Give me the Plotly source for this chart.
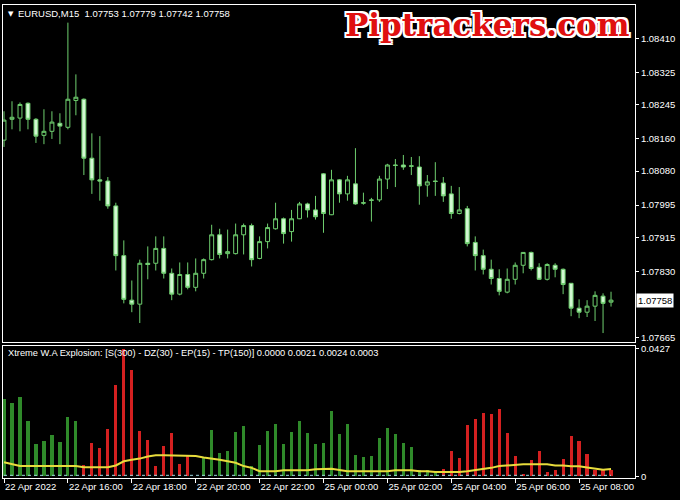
import plotly.graph_objects as go

# ---- data (EURUSD M15) ----
time_labels = ["22 Apr 2022", "22 Apr 16:00", "22 Apr 18:00", "22 Apr 20:00", "22 Apr 22:00",
               "25 Apr 00:00", "25 Apr 02:00", "25 Apr 04:00", "25 Apr 06:00", "25 Apr 08:00"]

opens = [1.08157, 1.08209, 1.08212, 1.08249, 1.08209, 1.08169, 1.08179, 1.08199, 1.08189, 1.08256,
         1.08259, 1.08112, 1.08058, 1.08055, 1.07993, 1.07869, 1.07758, 1.07748, 1.07850, 1.07850,
         1.07887, 1.07825, 1.07773, 1.07822, 1.07790, 1.07825, 1.07859, 1.07921, 1.07874, 1.07874,
         1.07921, 1.07944, 1.07862, 1.07904, 1.07936, 1.07961, 1.07929, 1.07961, 1.07998, 1.07983,
         1.08073, 1.07971, 1.08058, 1.08023, 1.08048, 1.08001, 1.08008, 1.08008, 1.08060, 1.08095,
         1.08095, 1.08093, 1.08090, 1.08045, 1.08055, 1.08050, 1.08023, 1.07974, 1.07986, 1.07902,
         1.07869, 1.07835, 1.07812, 1.07778, 1.07810, 1.07845, 1.07877, 1.07840, 1.07810, 1.07845,
         1.07835, 1.07800, 1.07738, 1.07728, 1.07743, 1.07768, 1.07753]
highs = [1.08229, 1.08254, 1.08251, 1.08251, 1.08212, 1.08234, 1.08229, 1.08224, 1.08450, 1.08321,
         1.08261, 1.08174, 1.08167, 1.08065, 1.08001, 1.07907, 1.07807, 1.07859, 1.07892, 1.07917,
         1.07917, 1.07837, 1.07852, 1.07852, 1.07862, 1.07862, 1.07946, 1.07936, 1.07934, 1.07949,
         1.07949, 1.07949, 1.07917, 1.07949, 1.08001, 1.07964, 1.07983, 1.08003, 1.08001, 1.08018,
         1.08075, 1.08083, 1.08060, 1.08068, 1.08137, 1.08026, 1.08013, 1.08068, 1.08098, 1.08110,
         1.08120, 1.08115, 1.08117, 1.08070, 1.08102, 1.08065, 1.08043, 1.08040, 1.07993, 1.07917,
         1.07884, 1.07859, 1.07835, 1.07837, 1.07852, 1.07878, 1.07879, 1.07850, 1.07850, 1.07850,
         1.07837, 1.07800, 1.07760, 1.07758, 1.07780, 1.07775, 1.07779]
lows = [1.08140, 1.08184, 1.08179, 1.08184, 1.08150, 1.08147, 1.08160, 1.08147, 1.08184, 1.08219,
        1.08070, 1.08023, 1.08006, 1.07986, 1.07832, 1.07750, 1.07728, 1.07701, 1.07810, 1.07832,
        1.07812, 1.07758, 1.07770, 1.07785, 1.07780, 1.07812, 1.07857, 1.07862, 1.07862, 1.07872,
        1.07872, 1.07842, 1.07860, 1.07887, 1.07934, 1.07899, 1.07904, 1.07960, 1.07964, 1.07959,
        1.07926, 1.07970, 1.08001, 1.08006, 1.07996, 1.07996, 1.07954, 1.08003, 1.08035, 1.08040,
        1.08083, 1.08070, 1.07996, 1.08016, 1.08018, 1.08003, 1.07961, 1.07972, 1.07892, 1.07832,
        1.07822, 1.07797, 1.07770, 1.07775, 1.07797, 1.07825, 1.07832, 1.07809, 1.07807, 1.07815,
        1.07773, 1.07718, 1.07713, 1.07716, 1.07706, 1.07676, 1.07742]
closes = [1.08207, 1.08214, 1.08246, 1.08209, 1.08167, 1.08179, 1.08202, 1.08192, 1.08259, 1.08264,
          1.08112, 1.08058, 1.08055, 1.07993, 1.07869, 1.07760, 1.07748, 1.07850, 1.07847, 1.07887,
          1.07825, 1.07773, 1.07822, 1.07790, 1.07825, 1.07859, 1.07921, 1.07872, 1.07879, 1.07921,
          1.07944, 1.07859, 1.07904, 1.07939, 1.07961, 1.07924, 1.07961, 1.07998, 1.07983, 1.07966,
          1.07974, 1.08058, 1.08023, 1.08058, 1.07998, 1.08000, 1.08007, 1.08060, 1.08095, 1.08094,
          1.08090, 1.08092, 1.08043, 1.08053, 1.08054, 1.08018, 1.07974, 1.07983, 1.07899, 1.07869,
          1.07835, 1.07812, 1.07780, 1.07810, 1.07845, 1.07877, 1.07837, 1.07810, 1.07847, 1.07835,
          1.07797, 1.07738, 1.07728, 1.07743, 1.07770, 1.07750, 1.07758]

price_ticks = [1.08410, 1.08325, 1.08245, 1.08160, 1.08080, 1.07995, 1.07915, 1.07830, 1.07665]

# Xtreme W.A Explosion indicator buffers
green_hist = [0.0260, 0.0245, 0.0267, 0.0186, 0.0108, 0.0118, 0.0140, 0.0114, 0.0199, 0.0184,
              0, 0, 0, 0, 0, 0, 0, 0, 0, 0,
              0, 0, 0, 0, 0, 0.0062, 0.0156, 0.0078, 0.0085, 0.0148,
              0.0170, 0.0036, 0.0104, 0.0153, 0.0176, 0.0108, 0.0150, 0.0186, 0.0147, 0.0108,
              0.0111, 0.0218, 0.0143, 0.0176, 0.0072, 0.0065, 0.0068, 0.0130, 0.0163, 0.0143,
              0.0111, 0.0098, 0.0023, 0.0020, 0.0015, 0, 0, 0, 0, 0,
              0, 0, 0, 0, 0, 0, 0, 0, 0, 0,
              0, 0, 0, 0, 0, 0, 0]
red_hist = [0, 0, 0, 0, 0, 0, 0, 0, 0, 0,
            0.0038, 0.0111, 0.0095, 0.0160, 0.0306, 0.0427, 0.0358, 0.0153, 0.0121, 0.0036,
            0.0101, 0.0147, 0.0042, 0.0068, 0, 0, 0, 0, 0, 0,
            0, 0, 0, 0, 0, 0, 0, 0, 0, 0,
            0, 0, 0, 0, 0, 0, 0, 0, 0, 0,
            0, 0, 0, 0, 0, 0.0026, 0.0085, 0.0062, 0.0173, 0.0192,
            0.0212, 0.0209, 0.0225, 0.0147, 0.0068, 0.0007, 0.0055, 0.0085, 0.0013, 0.0020,
            0.0059, 0.0134, 0.0117, 0.0075, 0.0020, 0.0026, 0.0021]
explosion_line = [0.0047, 0.0041, 0.0034, 0.0034, 0.0034, 0.0034, 0.0034, 0.0034, 0.0034, 0.0034,
                  0.0030, 0.0030, 0.0030, 0.0030, 0.0036, 0.0050, 0.0055, 0.0059, 0.0066, 0.0070,
                  0.0070, 0.0070, 0.0070, 0.0070, 0.0068, 0.0063, 0.0060, 0.0055, 0.0050, 0.0045,
                  0.0034, 0.0028, 0.0017, 0.0017, 0.0017, 0.0020, 0.0020, 0.0020, 0.0020, 0.0023,
                  0.0025, 0.0025, 0.0021, 0.0017, 0.0017, 0.0017, 0.0017, 0.0017, 0.0017, 0.0020,
                  0.0020, 0.0020, 0.0017, 0.0017, 0.0014, 0.0014, 0.0014, 0.0014, 0.0017, 0.0020,
                  0.0025, 0.0028, 0.0034, 0.0036, 0.0039, 0.0040, 0.0040, 0.0040, 0.0040, 0.0036,
                  0.0036, 0.0033, 0.0033, 0.0029, 0.0025, 0.0022, 0.0024]
dead_zone = [0.0003] * 77
ind_ticks = [0, 0.0427]
ind_tick_text = ["0", "0.0427"]

# ---- figure ----
idx = list(range(len(closes)))
tick_idx = list(range(0, len(closes), 8))

FONT = "Liberation Sans"
WHITE = "#ffffff"
CANDLE = "#6fcf6f"

fig = go.Figure()
fig.add_trace(go.Candlestick(
    x=idx, open=opens, high=highs, low=lows, close=closes,
    xaxis="x", yaxis="y",
    increasing=dict(line=dict(color=CANDLE, width=1), fillcolor="#000000"),
    decreasing=dict(line=dict(color=CANDLE, width=1), fillcolor="#d2f7d2"),
    whiskerwidth=0, showlegend=False, hoverinfo="skip"))

fig.add_trace(go.Bar(x=idx, y=green_hist, xaxis="x2", yaxis="y2", width=0.4,
                     marker=dict(color="#2f8a2a", line=dict(width=0)), showlegend=False))
fig.add_trace(go.Bar(x=idx, y=red_hist, xaxis="x2", yaxis="y2", width=0.4,
                     marker=dict(color="#d42020", line=dict(width=0)), showlegend=False))
fig.add_trace(go.Scatter(x=idx, y=dead_zone, xaxis="x2", yaxis="y2", mode="lines",
                         line=dict(color="#9fd8e0", width=1, dash="dot"), showlegend=False))
fig.add_trace(go.Scatter(x=idx, y=explosion_line, xaxis="x2", yaxis="y2", mode="lines",
                         line=dict(color="#e8dc3c", width=2), showlegend=False))

W, H = 680, 500
ml, mr, mt, mb = 2, 45, 2, 22
ph = H - mt - mb

axis_common = dict(showline=True, mirror=True, linecolor=WHITE, linewidth=1,
                   showgrid=False, zeroline=False)

fig.update_layout(
    width=W, height=H,
    margin=dict(l=ml, r=mr, t=mt, b=mb),
    paper_bgcolor="#000000", plot_bgcolor="#000000",
    barmode="overlay", bargap=0,
    font=dict(family=FONT, size=9.5, color=WHITE),
    xaxis=dict(domain=[0, 1], anchor="y", range=[-0.125, 79], showticklabels=False,
               ticks="", rangeslider=dict(visible=False), **axis_common),
    yaxis=dict(domain=[(478 - 341) / ph, 1], anchor="x", side="right",
               range=[1.07654, 1.08494], tickvals=price_ticks,
               tickformat=".5f", ticks="outside", ticklen=3, tickcolor=WHITE,
               tickfont=dict(family=FONT, size=9.5, color=WHITE), **axis_common),
    xaxis2=dict(domain=[0, 1], anchor="y2", matches="x", range=[-0.125, 79],
                tickvals=tick_idx, ticktext=time_labels, ticks="outside", ticklen=4,
                tickcolor=WHITE, ticklabelposition="outside right",
                tickfont=dict(family=FONT, size=9.5, color=WHITE), **axis_common),
    yaxis2=dict(domain=[0, (478 - 345) / ph], anchor="x2", side="right",
                range=[-0.0006, 0.0437], tickvals=ind_ticks, ticktext=ind_tick_text,
                ticks="outside", ticklen=3, tickcolor=WHITE,
                tickfont=dict(family=FONT, size=9.5, color=WHITE), **axis_common),
)

def px_x(p):
    return (p - ml) / (W - ml - mr)

def px_y(p):
    return (H - mb - p) / ph

annotations = [
    dict(text="▼", x=px_x(5), y=px_y(11), xref="paper", yref="paper",
         xanchor="left", yanchor="middle", showarrow=False,
         font=dict(family="DejaVu Sans", size=7, color=WHITE)),
    dict(text="EURUSD,M15  %.5f %.5f %.5f %.5f" % (opens[-1], highs[-1], lows[-1], closes[-1]),
         x=px_x(15), y=px_y(11), xref="paper", yref="paper",
         xanchor="left", yanchor="middle", showarrow=False,
         font=dict(family=FONT, size=9.5, color=WHITE)),
    dict(text="Xtreme W.A Explosion: [S(300) - DZ(30) - EP(15) - TP(150)] %.4f %.4f %.4f %.4f"
         % (green_hist[-1], red_hist[-1], explosion_line[-1], dead_zone[-1]),
         x=px_x(5), y=px_y(352), xref="paper", yref="paper",
         xanchor="left", yanchor="middle", showarrow=False,
         font=dict(family=FONT, size=9.3, color=WHITE)),
    dict(text="<b>Piptrackers.com</b>", x=px_x(487), y=px_y(22), xref="paper", yref="paper",
         xanchor="center", yanchor="middle", showarrow=False,
         font=dict(family="DejaVu Serif", size=31, color="#e01010",
                   shadow="2px 2px 0 #fff, -2px -2px 0 #fff, 2px -2px 0 #fff, -2px 2px 0 #fff, "
                          "0 2px 0 #fff, 0 -2px 0 #fff, 2px 0 0 #fff, -2px 0 0 #fff")),
    dict(text="%.5f" % closes[-1], x=1, y=closes[-1], xref="paper", yref="y",
         xanchor="left", yanchor="middle", xshift=1, showarrow=False,
         bgcolor=WHITE, borderpad=1,
         font=dict(family=FONT, size=9.5, color="#000000")),
]
fig.update_layout(annotations=annotations)

fig.write_html("out.html", config={"displayModeBar": False},
               post_script="document.body.style.margin='0';document.body.style.padding='0';")
